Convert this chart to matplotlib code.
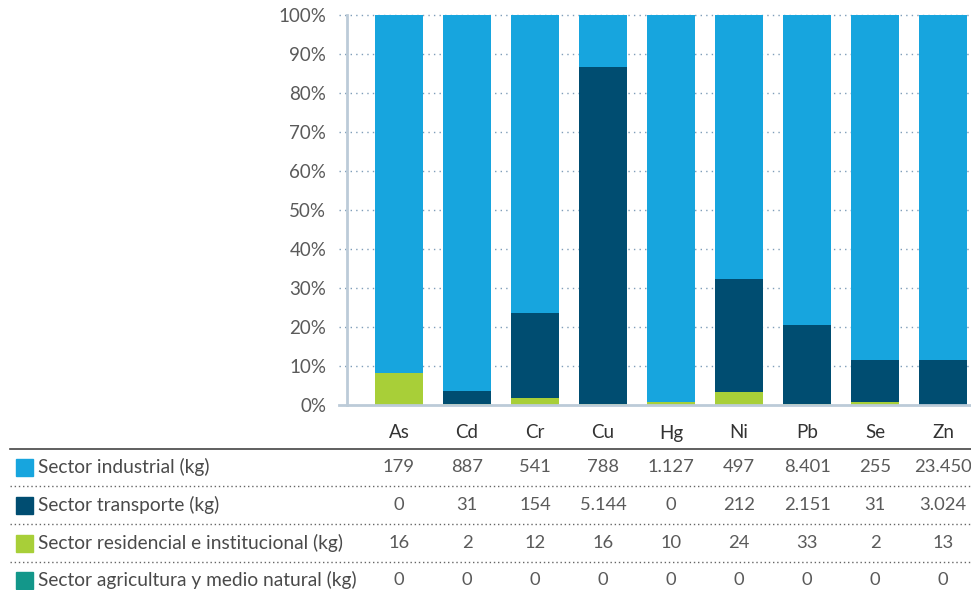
import numpy as np
import matplotlib.pyplot as plt
from matplotlib.lines import Line2D
from matplotlib.patches import Rectangle
import matplotlib.transforms as mtransforms

plt.rcParams['font.family'] = ['Lato', 'DejaVu Sans']

# data
metals = ['As', 'Cd', 'Cr', 'Cu', 'Hg', 'Ni', 'Pb', 'Se', 'Zn']
industrial = [179, 887, 541, 788, 1127, 497, 8401, 255, 23450]
transporte = [0, 31, 154, 5144, 0, 212, 2151, 31, 3024]
residencial = [16, 2, 12, 16, 10, 24, 33, 2, 13]
agricultura = [0, 0, 0, 0, 0, 0, 0, 0, 0]

series_names = ['Sector industrial (kg)', 'Sector transporte (kg)',
                'Sector residencial e institucional (kg)',
                'Sector agricultura y medio natural (kg)']
series_vals = [industrial, transporte, residencial, agricultura]
colors = ['#17a5de', '#004d71', '#a8cf38', '#13978a']

W, H = 971, 590
fig = plt.figure(figsize=(W / 100, H / 100), dpi=100)
ax = fig.add_axes([347 / W, 1 - 405 / H, 624 / W, 390 / H])

x = np.arange(len(metals))
totals = np.array(industrial) + np.array(transporte) + np.array(residencial) + np.array(agricultura)

# stacking from bottom: residencial, agricultura, transporte, industrial
bottom = np.zeros(len(metals))
for vals, col in [(residencial, colors[2]), (agricultura, colors[3]),
                  (transporte, colors[1]), (industrial, colors[0])]:
    pct = np.array(vals) / totals * 100
    ax.bar(x, pct, bottom=bottom, width=0.71, color=col, zorder=3)
    bottom += pct

ax.set_xlim(-0.765, 8.41)
ax.set_ylim(0, 100)
ax.set_yticks(np.arange(0, 101, 10))
ax.set_yticklabels([f'{v}%' for v in range(0, 101, 10)])
ax.tick_params(axis='y', length=0, pad=15, labelsize=13.5, labelcolor='#5a5a5a')
ax.set_xticks([])

for s in ['top', 'right', 'bottom']:
    ax.spines[s].set_visible(False)
ax.spines['left'].set_color('#bccbd8')
ax.spines['left'].set_linewidth(2)

for v in range(10, 101, 10):
    ax.axhline(v, xmin=-0.013, xmax=1, color='#7f9db8', lw=1,
               ls=(0, (1, 3)), clip_on=False, zorder=1)
ax.axhline(0, xmin=-0.013, xmax=1, color='#bccbd8', lw=2, clip_on=False, zorder=4)

# table below the chart
tr = mtransforms.blended_transform_factory(ax.transData, fig.transFigure)

def fy(py):
    return 1 - py / H

def fmt(v):
    return f'{v:,}'.replace(',', '.')

for i, m in enumerate(metals):
    fig.text(i, fy(433), m, transform=tr, ha='center', va='center',
             fontsize=13.5, color='#333333')

fig.add_artist(Line2D([10 / W, 1], [fy(449), fy(449)], color='#444444', lw=1.2))

row_y = [467, 505, 543, 580]
for r, (name, vals, col) in enumerate(zip(series_names, series_vals, colors)):
    yc = row_y[r]
    fig.add_artist(Rectangle((16 / W, fy(yc + 8.5)), 17 / W, 17 / H,
                             transform=fig.transFigure, color=col))
    fig.text(38 / W, fy(yc), name, ha='left', va='center',
             fontsize=13.8, color='#4a4a4a')
    for i, v in enumerate(vals):
        fig.text(i, fy(yc), fmt(v), transform=tr, ha='center', va='center',
                 fontsize=13.2, color='#5a5a5a')
    if r < 3:
        fig.add_artist(Line2D([10 / W, 1], [fy(yc + 19), fy(yc + 19)],
                              color='#666666', lw=1, ls=(0, (1, 2))))

fig.savefig('out.png', dpi=100)
